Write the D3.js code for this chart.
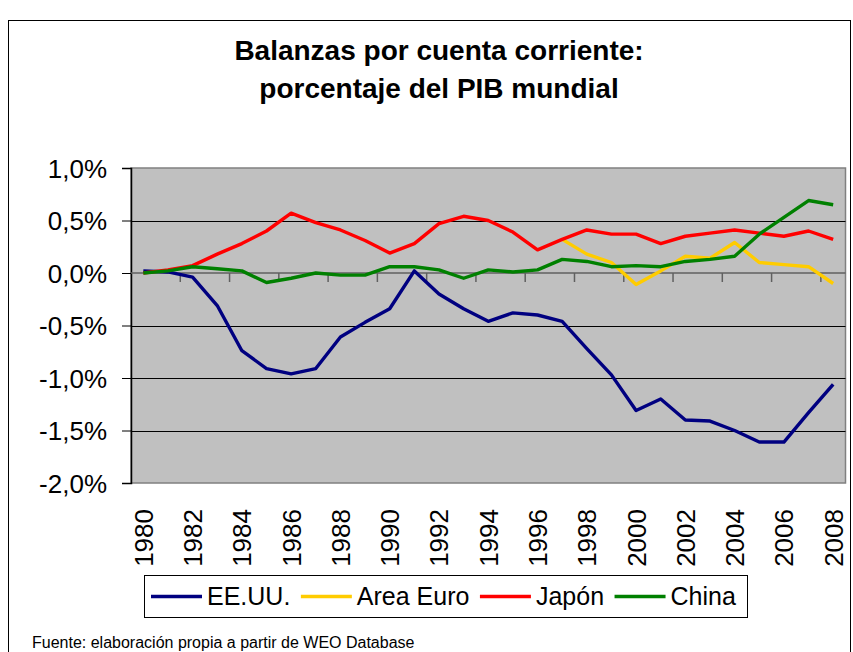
<!DOCTYPE html>
<html>
<head>
<meta charset="utf-8">
<script src="https://cdn.jsdelivr.net/npm/d3@7"></script>
<style>
  body { margin: 0; background: #fff; }
  svg { display: block; font-family: "Liberation Sans", Arial, sans-serif; }
</style>
</head>
<body>
<svg id="svg" width="853" height="652"></svg>
<script>
// datos (% del PIB mundial)
var years = [1980,1981,1982,1983,1984,1985,1986,1987,1988,1989,1990,1991,1992,1993,1994,
             1995,1996,1997,1998,1999,2000,2001,2002,2003,2004,2005,2006,2007,2008];
var eeuu  = [0.02,0.01,-0.04,-0.31,-0.74,-0.91,-0.96,-0.91,-0.61,-0.47,-0.34,0.02,-0.20,-0.34,-0.46,
             -0.38,-0.40,-0.46,-0.72,-0.97,-1.31,-1.20,-1.40,-1.41,-1.50,-1.61,-1.61,-1.33,-1.06];
var euro  = [null,null,null,null,null,null,null,null,null,null,null,null,null,null,null,
             null,null,0.32,0.18,0.10,-0.11,0.02,0.16,0.14,0.29,0.10,0.08,0.06,-0.10];
var japon = [0.00,0.03,0.07,0.18,0.28,0.40,0.57,0.48,0.41,0.31,0.19,0.28,0.47,0.54,0.50,
             0.39,0.22,0.32,0.41,0.37,0.37,0.28,0.35,0.38,0.41,0.38,0.35,0.40,0.32];
var china = [0.00,0.02,0.06,0.04,0.02,-0.09,-0.05,0.00,-0.02,-0.02,0.06,0.06,0.03,-0.05,0.03,
             0.01,0.03,0.13,0.11,0.06,0.07,0.06,0.11,0.13,0.16,0.37,0.53,0.69,0.65];
var seriesNames = ["EE.UU.", "Area Euro", "Japón", "China"];
var seriesColors = ["#000080", "#FFCC00", "#FF0000", "#008000"];
var yTicks = [1.0, 0.5, 0.0, -0.5, -1.0, -1.5, -2.0];
var title = ["Balanzas por cuenta corriente:", "porcentaje del PIB mundial"];
var fuente = "Fuente: elaboración propia a partir de WEO Database";

var series = [eeuu, euro, japon, china];
var plot = {left: 131, right: 845.5, top: 168, bottom: 483};

var svg = d3.select("#svg");

// marco del grafico
svg.append("rect")
  .attr("x", 8.5).attr("y", 20.5)
  .attr("width", 842).attr("height", 700)
  .attr("fill", "#fff")
  .attr("stroke", "#000")
  .attr("stroke-width", 1);

var x = d3.scaleBand()
  .domain(years)
  .range([plot.left, plot.right]);
var y = d3.scaleLinear()
  .domain([-2, 1])
  .range([plot.bottom, plot.top]);
var fmt = d => d3.format(".1f")(d).replace(".", ",").replace("−", "-") + "%";

// area de trazado
svg.append("rect")
  .attr("x", plot.left).attr("y", plot.top)
  .attr("width", plot.right - plot.left).attr("height", plot.bottom - plot.top)
  .attr("fill", "#C0C0C0")
  .attr("stroke", "#808080")
  .attr("stroke-width", 1.5);

// lineas de division
svg.append("g")
  .selectAll("line")
  .data(yTicks.filter(d => d !== 1 && d !== -2 && d !== 0))
  .enter().append("line")
  .attr("x1", plot.left).attr("x2", plot.right)
  .attr("y1", d => Math.round(y(d)) + 0.5).attr("y2", d => Math.round(y(d)) + 0.5)
  .attr("stroke", "#000")
  .attr("stroke-width", 1);

// eje Y
var yAxis = d3.axisLeft(y)
  .tickValues(yTicks)
  .tickSize(9)
  .tickPadding(15)
  .tickFormat(fmt);
var yG = svg.append("g")
  .attr("transform", `translate(${plot.left},0)`)
  .call(yAxis);
yG.select(".domain").attr("stroke", "#000").attr("stroke-width", 1.5);
yG.selectAll(".tick line").attr("stroke", "#000");
yG.selectAll(".tick text")
  .style("font-size", "26px")
  .attr("fill", "#000")
  .attr("dy", "0.36em");

// eje de categorias en y = 0
var y0 = y(0);
svg.append("line")
  .attr("x1", plot.left).attr("x2", plot.right)
  .attr("y1", y0).attr("y2", y0)
  .attr("stroke", "#606060")
  .attr("stroke-width", 1.5);
svg.append("g")
  .selectAll("line")
  .data(years.filter((d, i) => i > 0 && i % 2 === 0))
  .enter().append("line")
  .attr("x1", d => x(d)).attr("x2", d => x(d))
  .attr("y1", y0).attr("y2", y0 + 9)
  .attr("stroke", "#606060")
  .attr("stroke-width", 1.5);

// etiquetas de años
svg.append("g")
  .selectAll("text")
  .data(years.filter((d, i) => i % 2 === 0))
  .enter().append("text")
  .attr("transform", d => `translate(${x(d) + x.bandwidth() / 2 + 9.5},509) rotate(-90)`)
  .attr("text-anchor", "end")
  .style("font-size", "26px")
  .attr("fill", "#000")
  .text(d => d);

// series
var line = d3.line()
  .defined(d => d.v !== null)
  .x(d => x(d.year) + x.bandwidth() / 2)
  .y(d => y(d.v));

svg.append("g")
  .selectAll("path")
  .data(series)
  .enter().append("path")
  .attr("d", s => line(s.map((v, i) => ({year: years[i], v: v}))))
  .attr("fill", "none")
  .attr("stroke", (s, i) => seriesColors[i])
  .attr("stroke-width", 3.4)
  .attr("stroke-linejoin", "round");

// titulo
svg.selectAll(".tiltext")
  .data(title)
  .enter().append("text")
  .attr("class", "tiltext")
  .attr("x", 439)
  .attr("y", (d, i) => 60 + i * 38)
  .attr("text-anchor", "middle")
  .style("font-size", "28px")
  .style("font-weight", 700)
  .attr("fill", "#000")
  .text(d => d);

// leyenda
var leg = svg.append("g");
leg.append("rect")
  .attr("x", 144.5).attr("y", 575.5)
  .attr("width", 603).attr("height", 42)
  .attr("fill", "#fff")
  .attr("stroke", "#000")
  .attr("stroke-width", 1);

var lx = 151;
seriesNames.forEach(function(name, i) {
  leg.append("line")
    .attr("x1", lx).attr("x2", lx + 51)
    .attr("y1", 596.5).attr("y2", 596.5)
    .attr("stroke", seriesColors[i])
    .attr("stroke-width", 3.4);
  var t = leg.append("text")
    .attr("x", lx + 56)
    .attr("y", 605)
    .style("font-size", "25px")
    .attr("fill", "#000")
    .text(name);
  lx = lx + 56 + t.node().getComputedTextLength() + 10.5;
});

// fuente
svg.append("text")
  .attr("x", 32)
  .attr("y", 648)
  .style("font-size", "16px")
  .attr("fill", "#000")
  .text(fuente);
</script>
</body>
</html>
